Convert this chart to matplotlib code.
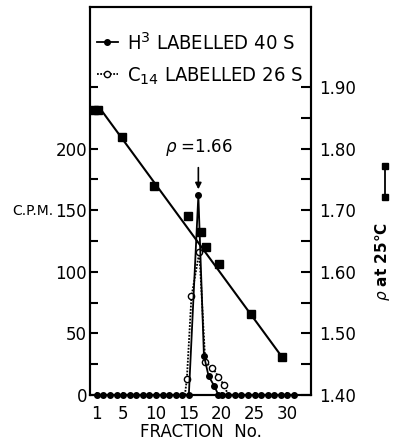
import os
import matplotlib
matplotlib.use("Agg")
import matplotlib.pyplot as plt
from matplotlib import font_manager
from matplotlib.lines import Line2D
from matplotlib.ticker import FixedLocator, NullFormatter

# H3-labelled 40 S counts per fraction
h3_fraction = [1, 2, 3, 4, 5, 6, 7, 8, 9, 10, 11, 12, 13, 14, 15,
               16.45, 17.3, 18.0, 18.9, 19.5,
               20, 21, 22, 23, 24, 25, 26, 27, 28, 29, 30, 31]
h3_cpm = [0, 0, 0, 0, 0, 0, 0, 0, 0, 0, 0, 0, 0, 0, 0,
          162, 32, 15.5, 7, 0,
          0, 0, 0, 0, 0, 0, 0, 0, 0, 0, 0, 0]

# C14-labelled 26 S counts
c14_fraction = [14.4, 14.7, 15.4, 16.6, 17.5, 18.6, 19.5, 20.3, 21.0]
c14_cpm = [0, 13, 80, 116, 27, 22, 15, 8.5, 0]

# CsCl density of the gradient fractions
rho_fraction = [0.6, 1.1, 4.8, 9.7, 14.8, 16.8, 17.55, 19.6, 24.5, 29.2]
rho_value = [1.862, 1.862, 1.819, 1.740, 1.691, 1.665, 1.641, 1.613, 1.532, 1.462]
fit_fraction = [1.5, 29.2]
fit_rho = [1.865, 1.4615]

x_ticks = [1, 5, 10, 15, 20, 25, 30]
peak_fraction = 16.45
peak_label = r"$\rho$ =1.66"


def narrow_font():
    # prefer a condensed face for the tall, narrow legend lettering
    for f in font_manager.fontManager.ttflist:
        tag = (f.name + " " + os.path.basename(f.fname)).lower()
        if ("narrow" in tag or "condensed" in tag) and f.weight in (400, "normal") \
                and f.style == "normal":
            return font_manager.FontProperties(fname=f.fname, size=14.5), True
    return font_manager.FontProperties(family="DejaVu Sans", size=13.5), False


plt.rcParams["font.family"] = ["DejaVu Sans"]
plt.rcParams["axes.linewidth"] = 1.5

fig = plt.figure(figsize=(3.94, 4.43), dpi=100)
ax = fig.add_axes([0.2284, 0.1084, 0.5609, 0.8758])
ax2 = ax.twinx()

ax.set_xlim(-0.05, 33.6)
ax.set_ylim(0, 315)
ax2.set_ylim(1.40, 2.03)

# density gradient: measured points and fitted line
ax2.plot(fit_fraction, fit_rho, color="black", lw=1.5, zorder=2)
ax2.plot(rho_fraction, rho_value, ls="none", marker="s", ms=5.5,
         color="black", zorder=3)

# radioactivity profiles
ax2.set_zorder(ax.get_zorder() - 1)
ax.patch.set_visible(False)
ax.plot(c14_fraction, c14_cpm, color="black", lw=1.3, ls=(0, (1, 0.8)),
        marker="o", ms=4.5, mfc="white", mec="black", mew=1.0,
        markevery=slice(1, -1), zorder=3, clip_on=False)
ax.plot(h3_fraction, h3_cpm, color="black", lw=1.3, marker="o", ms=4,
        zorder=4, clip_on=False)

ax.annotate(peak_label, xy=(peak_fraction, 167), xytext=(peak_fraction, 201),
            ha="center", va="center", fontsize=12,
            arrowprops=dict(arrowstyle="-|>", color="black", lw=1.2,
                            shrinkA=5, shrinkB=0, mutation_scale=9))

# axes ticks
ax.yaxis.set_major_locator(FixedLocator([0, 50, 100, 150, 200]))
ax.yaxis.set_minor_locator(FixedLocator([25, 75, 125, 175, 250]))
ax.xaxis.set_major_locator(FixedLocator(x_ticks))
ax.tick_params(axis="y", which="both", direction="in", length=6, width=1.5,
               labelsize=12, pad=2, right=False)
ax.tick_params(axis="x", direction="in", length=2.5, width=1.2,
               labelsize=12, pad=7, top=False)
ax2.yaxis.set_major_locator(FixedLocator([1.40, 1.50, 1.60, 1.70, 1.80, 1.90]))
ax2.yaxis.set_minor_locator(FixedLocator([1.45, 1.55, 1.65, 1.75, 1.85]))
ax2.yaxis.set_minor_formatter(NullFormatter())
ax2.set_yticklabels(["%.2f" % v for v in [1.40, 1.50, 1.60, 1.70, 1.80, 1.90]])
ax2.tick_params(axis="y", which="both", direction="in", length=7, width=1.5,
                labelsize=12, pad=6)

ax.set_xlabel("FRACTION  No.", fontsize=12, labelpad=0)
fig.text(0.084, 0.524, "C.P.M.", fontsize=10, ha="center", va="center")

# legend for the two labelled species
legend_font, condensed = narrow_font()
handles = [
    Line2D([], [], color="black", lw=1.3, marker="o", ms=4),
    Line2D([], [], color="black", lw=1.3, ls=(0, (1, 0.8)), marker="o", ms=4.5,
           mfc="white", mec="black"),
]
labels = ["H$^{3}$ LABELLED 40 S", "C$_{14}$ LABELLED 26 S"]
ax.legend(handles, labels, loc="upper left", bbox_to_anchor=(0.03, 0.937),
          frameon=False, prop=legend_font,
          handlelength=1.05 if condensed else 1.15,
          handletextpad=0.45, labelspacing=0.6 if condensed else 0.7,
          borderpad=0, borderaxespad=0)

# density key on the right
fig.add_artist(Line2D([0.977, 0.977], [0.626, 0.556], transform=fig.transFigure,
                      color="black", lw=1.3, marker="s", ms=5))
fig.text(0.972, 0.41, r"$\rho$ at 25°C", rotation=90, fontsize=11,
         fontweight="bold", ha="center", va="center")

fig.savefig("out.png", dpi=100)
